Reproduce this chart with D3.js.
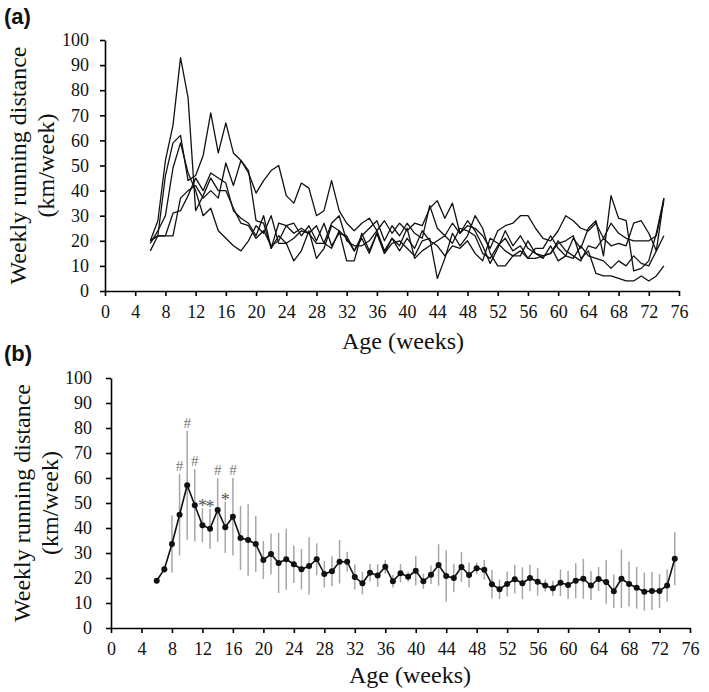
<!DOCTYPE html>
<html>
<head>
<meta charset="utf-8">
<script src="https://cdnjs.cloudflare.com/ajax/libs/d3/7.8.5/d3.min.js"></script>
<style>
  body { margin: 0; background: #fff; }
  svg text { font-family: "Liberation Serif", "Times New Roman", Times, "DejaVu Serif", serif; fill: #111; }
  svg text.panelLabel { font-family: "Liberation Sans", Arial, sans-serif; font-weight: bold; font-size: 22px; }
</style>
</head>
<body>
<div id="chart"></div>
<script>
// weeks 6..74
var weeks = d3.range(6, 75);
var xTicks = d3.range(0, 77, 4);
var yTicks = d3.range(0, 101, 10);

// panel (a): individual rats
var rat1 = [20,28,52,66,93,77,32,38,45,40, 40,33,27,26,21,24,18,20,26,27, 22,26,20,27,18,23,22,16,22,25,
            28,20,26,22,27,23,21,34,25,22, 27,23,28,24,18,11,17,24,18,22, 17,15,13,18,12,14,21,17,25,28,
            14,38,29,28,8,9,12,23,37];
var rat2 = [20,22,46,59,62,44,46,54,71,55, 67,55,52,47,39,44,48,50,38,35, 43,41,30,32,44,32,27,24,27,29,
            24,28,23,27,24,27,26,33,36,29, 35,23,26,25,22,17,24,26,27,30, 30,25,21,20,24,30,28,25,24,27,
            21,27,23,21,20,20,20,22,36];
var rat3 = [19,24,30,49,59,47,40,30,33,24, 21,18,16,20,26,23,30,19,19,12, 16,24,13,17,26,24,12,12,23,16,
            23,15,19,20,17,14,20,21,5,13, 23,18,22,30,25,15,10,10,14,14, 20,15,14,15,19,20,22,13,16,7,
            6,6,5,4,4,6,4,6,10];
var rat4 = [20,22,22,31,32,38,45,40,47,45, 43,32,29,27,22,30,17,27,26,23, 25,23,26,19,27,30,20,18,18,20,
            24,16,21,18,25,13,16,18,20,22, 19,25,24,22,15,13,18,21,16,18, 13,17,17,22,17,14,13,18,14,13,
            12,9,12,10,14,11,10,16,22];
var rat5 = [16,22,22,22,37,40,42,37,40,37, 51,42,52,48,28,27,17,22,19,21, 24,23,19,19,17,24,21,16,21,15,
            23,15,21,16,21,17,24,20,18,14, 18,17,20,15,12,21,19,16,14,16, 13,13,14,15,20,16,14,12,18,17,
            21,18,19,18,27,28,23,16,37];

// panel (b): mean and SD
var meanDist = [18.9,23.5,33.6,45.3,57.1,49.1,41.1,39.7,47.2,40.3, 44.5,36,35.2,33.6,27.2,29.6,26,27.5,25.5,23.5,
                24.8,27.5,21.6,22.7,26.5,26.5,20.4,17.9,22.1,21, 24.5,18.7,21.9,20.5,22.9,18.7,21.3,25.2,20.8,20,
                24.4,21.2,23.9,23.3,17.5,15.5,17.6,19.5,17.9,20, 18.5,17,15.9,18.1,17.2,18.9,19.7,17,19.6,18.4,
                14.7,19.7,17.6,16.1,14.5,14.8,14.8,17,27.7];
var sdDist = [1,1.5,11.5,16.3,21.8,14.5,6.8,8,12.7,10.3, 15.5,12.8,14.3,11.2,7.6,8.2,12,12.2,7.5,8.1,
              11.5,6.4,5.3,6,8.7,4,5,4.5,3.5,4.5, 2.7,2.5,3.7,2,5.9,3,3.7,8.3,10.3,5.7,
              6,5,2.3,3.9,5.7,3.9,5,5.7,6.4,5.3, 5.6,2.4,3,5.3,5.6,7,8,5.8,4.8,8.7,
              6.7,11.7,9,8.4,7.6,7.6,6.8,6.5,10.6];
var hashWeeks = [9, 10, 11, 14, 16];
var starWeeks = [12, 13, 15];

var serif = "'Liberation Serif', 'Times New Roman', Times, serif";

var svg = d3.select("#chart")
    .append("svg")
    .attr("width", 709)
    .attr("height", 692);

svg.append("rect").attr("width", 709).attr("height", 692).attr("fill", "#fff");

function drawAxes(x, y, o) {
    var g = svg.append("g");
    var xg = g.append("g")
        .attr("transform", `translate(0, ${y(0)})`)
        .call(d3.axisBottom(x).tickValues(xTicks).tickSize(5).tickSizeOuter(0).tickPadding(o.xPad));
    var yg = g.append("g")
        .attr("transform", `translate(${x(0)}, 0)`)
        .call(d3.axisLeft(y).tickValues(yTicks).tickSize(5).tickSizeOuter(0).tickPadding(o.yPad));
    [xg, yg].forEach(function(a) {
        a.attr("font-family", null).attr("font-size", null);
        a.selectAll("text")
            .style("font-family", serif)
            .style("font-size", "18px")
            .style("fill", "#111");
    });
    g.selectAll(".domain, .tick line").attr("stroke", "#000").attr("stroke-width", 1.6);

    g.append("text")
        .attr("x", o.titleX)
        .attr("y", o.titleY)
        .attr("text-anchor", "middle")
        .style("font-family", serif)
        .style("font-size", "24px")
        .text("Age (weeks)");

    var mid = (y(0) + y(100)) / 2;
    g.append("text")
        .attr("transform", `translate(${o.yt1}, ${mid}) rotate(-90)`)
        .attr("text-anchor", "middle")
        .style("font-family", serif)
        .style("font-size", "24px")
        .text("Weekly running distance");
    g.append("text")
        .attr("transform", `translate(${o.yt2}, ${mid}) rotate(-90)`)
        .attr("text-anchor", "middle")
        .style("font-family", serif)
        .style("font-size", "24px")
        .text("(km/week)");
}

// ---- panel (a)
var xA = d3.scaleLinear().domain([0, 76]).range([105, 679]);
var yA = d3.scaleLinear().domain([0, 100]).range([291, 40]);

drawAxes(xA, yA, {xPad: 9, yPad: 11, titleX: 403, titleY: 349, yt1: 26, yt2: 54});

var lineA = d3.line()
    .x((d, i) => xA(weeks[i]))
    .y(d => yA(d));

svg.append("g")
    .selectAll("path")
    .data([rat1, rat2, rat3, rat4, rat5])
    .enter()
    .append("path")
    .attr("d", lineA)
    .attr("fill", "none")
    .attr("stroke", "#111")
    .attr("stroke-width", 1.3)
    .attr("stroke-linejoin", "round");

svg.append("text").attr("class", "panelLabel").attr("x", 4).attr("y", 24).text("(a)");

// ---- panel (b)
var xB = d3.scaleLinear().domain([0, 76]).range([111, 690]);
var yB = d3.scaleLinear().domain([0, 100]).range([628, 378]);

drawAxes(xB, yB, {xPad: 9, yPad: 14, titleX: 410, titleY: 683, yt1: 30, yt2: 58});

svg.append("g")
    .selectAll("line")
    .data(weeks)
    .enter()
    .append("line")
    .attr("x1", w => xB(w))
    .attr("x2", w => xB(w))
    .attr("y1", (w, i) => yB(meanDist[i] - sdDist[i]))
    .attr("y2", (w, i) => yB(meanDist[i] + sdDist[i]))
    .attr("stroke", "#a6a6a6")
    .attr("stroke-width", 1.5);

var lineB = d3.line()
    .x((d, i) => xB(weeks[i]))
    .y(d => yB(d));

svg.append("path")
    .datum(meanDist)
    .attr("d", lineB)
    .attr("fill", "none")
    .attr("stroke", "#111")
    .attr("stroke-width", 1.6);

svg.append("g")
    .selectAll("circle")
    .data(meanDist)
    .enter()
    .append("circle")
    .attr("cx", (d, i) => xB(weeks[i]))
    .attr("cy", d => yB(d))
    .attr("r", 3)
    .attr("fill", "#111");

svg.append("g")
    .selectAll("text")
    .data(hashWeeks)
    .enter()
    .append("text")
    .attr("x", w => xB(w))
    .attr("y", w => yB(meanDist[w - 6] + sdDist[w - 6]) - 3)
    .attr("text-anchor", "middle")
    .style("font-family", serif)
    .style("font-size", "15px")
    .style("fill", "#7a7a7a")
    .text("#");

svg.append("g")
    .selectAll("text")
    .data(starWeeks)
    .enter()
    .append("text")
    .attr("x", w => xB(w))
    .attr("y", w => yB(meanDist[w - 6] + sdDist[w - 6]) + 4)
    .attr("text-anchor", "middle")
    .style("font-family", serif)
    .style("font-size", "18px")
    .style("fill", "#555")
    .text("*");

svg.append("text").attr("class", "panelLabel").attr("x", 4).attr("y", 361).text("(b)");
</script>
</body>
</html>
